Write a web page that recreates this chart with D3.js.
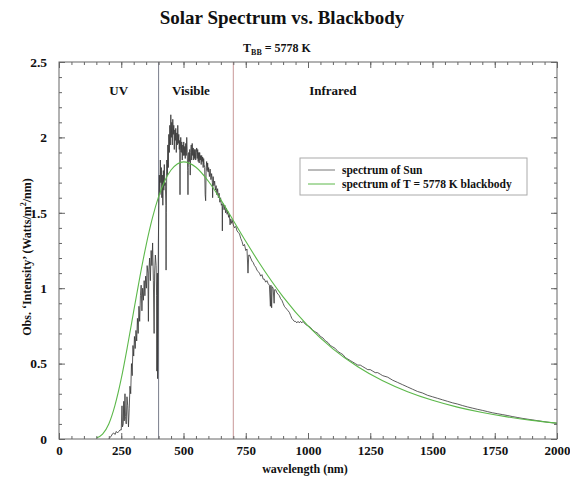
<!DOCTYPE html>
<html><head><meta charset="utf-8">
<script src="https://cdn.jsdelivr.net/npm/d3@7"></script>
<style>
body{margin:0;background:#fff;}
text{font-family:"Liberation Serif","Times New Roman",serif;font-weight:bold;fill:#111;}
</style></head>
<body><svg id="c" width="570" height="477"></svg>
<script>
// ---------- data ----------
const xTicks = [0,250,500,750,1000,1250,1500,1750,2000];
const yTicks = [0,0.5,1,1.5,2,2.5];
const yTickLabels = ["0","0.5","1","1.5","2","2.5"];
const regionNames = ["UV","Visible","Infrared"];
const regionCenters = [240,530,1100];
const regionBounds = [400,700];

// blackbody T = 5778 K
const bbWl  = [150,175,200,225,250,275,300,325,350,375,400,425,450,475,500,550,600,650,700,750,800,900,1000,1100,1200,1300,1400,1500,1600,1700,1800,1900,2000];
const bbVal = [0.007,0.033,0.10,0.225,0.40,0.615,0.848,1.077,1.286,1.464,1.607,1.713,1.784,1.824,1.838,1.802,1.709,1.586,1.449,1.311,1.179,0.943,0.750,0.598,0.479,0.386,0.3135,0.2566,0.2115,0.1757,0.147,0.1238,0.105];

const sunWl = [200,205,210,215,220,225,230,235,240,245,250,253,255,258,260,262,265,267,270,273,276,279,282,285,288,291,294,297,300,303,306,309,312,315,318,321,324,327,330,333,336,339,342,345,348,351,354,357,359,361,364,367,370,373,376,379,382,384,387,390,392,393,395,396,397,399,401,403,405,407,409,411,413,415,417,419,421,423,425,427,429,430,431,433,435,437,439,441,443,445,447,449,451,453,455,457,459,461,463,465,467,469,471,473,475,477,479,481,483,485,486,487,489,491,493,495,497,499,501,503,505,507,509,511,513,515,517,518,519,521,523,525,527,529,531,533,535,537,539,541,543,545,547,549,551,553,555,557,559,561,563,565,567,569,571,573,575,577,579,581,583,585,587,589,591,593,595,597,599,601,604,607,610,613,616,617,619,622,625,628,631,634,637,640,643,646,649,652,655,656,657,660,663,666,669,672,675,678,681,684,687,690,693,696,700,705,710,715,720,725,730,735,740,745,750,755,759,762,765,770,775,780,785,790,795,800,805,810,815,820,825,830,835,840,845,849,851,854,856,860,864,866,870,875,880,885,890,895,900,905,910,915,920,925,930,935,940,945,950,955,960,965,970,975,980,990,1000,1010,1020,1030,1040,1050,1060,1070,1080,1090,1100,1110,1120,1130,1140,1150,1160,1170,1180,1190,1200,1210,1220,1230,1240,1250,1260,1270,1280,1290,1300,1320,1340,1360,1380,1400,1420,1440,1460,1480,1500,1520,1540,1560,1580,1600,1620,1640,1660,1680,1700,1720,1740,1760,1780,1800,1820,1840,1860,1880,1900,1920,1940,1960,1980,2000];
const sunVal = [0.0,0.01,0.02,0.035,0.04,0.03,0.05,0.04,0.05,0.06,0.06,0.22,0.08,0.10,0.25,0.12,0.30,0.15,0.10,0.28,0.22,0.08,0.20,0.35,0.30,0.50,0.42,0.62,0.55,0.68,0.60,0.72,0.65,0.80,0.70,0.88,0.78,0.95,1.02,0.85,1.00,0.92,1.05,0.95,1.08,1.00,1.15,1.10,0.78,1.12,1.20,1.05,1.25,1.15,1.30,1.05,0.70,1.10,1.22,1.15,0.95,0.45,1.10,0.40,0.55,1.30,1.55,1.75,1.62,1.85,1.70,1.80,1.60,1.75,1.55,1.78,1.65,1.82,1.68,1.70,1.55,1.12,1.50,1.85,1.75,1.95,1.80,2.02,1.90,2.08,1.95,2.15,2.00,2.10,1.95,2.12,2.02,2.08,1.92,2.05,1.98,2.06,1.90,2.03,1.95,2.08,1.96,2.02,1.92,1.98,1.62,1.90,2.00,1.90,1.97,1.85,1.95,1.88,1.97,1.88,1.94,1.86,1.96,1.88,2.00,1.90,1.78,1.62,1.80,1.90,1.84,1.92,1.75,1.90,1.95,1.85,1.96,1.88,1.93,1.85,1.92,1.86,1.92,1.85,1.90,1.93,1.86,1.92,1.84,1.90,1.83,1.90,1.85,1.88,1.82,1.88,1.84,1.87,1.80,1.86,1.82,1.80,1.62,1.58,1.80,1.84,1.78,1.83,1.77,1.80,1.74,1.79,1.72,1.76,1.70,1.60,1.74,1.68,1.71,1.65,1.68,1.62,1.66,1.60,1.63,1.57,1.60,1.55,1.56,1.38,1.54,1.56,1.52,1.55,1.50,1.53,1.49,1.51,1.47,1.49,1.42,1.46,1.43,1.45,1.42,1.40,1.41,1.38,1.37,1.36,1.33,1.31,1.28,1.29,1.25,1.26,1.10,1.22,1.22,1.20,1.18,1.17,1.15,1.14,1.12,1.11,1.10,1.08,1.09,1.06,1.06,1.04,1.05,1.03,1.02,0.88,1.02,0.87,1.01,1.00,0.90,0.99,0.99,0.97,0.96,0.95,0.93,0.92,0.90,0.88,0.87,0.86,0.85,0.84,0.82,0.80,0.79,0.78,0.78,0.77,0.78,0.77,0.78,0.77,0.78,0.76,0.75,0.74,0.72,0.71,0.70,0.68,0.67,0.65,0.64,0.62,0.61,0.60,0.58,0.57,0.56,0.54,0.53,0.52,0.51,0.50,0.49,0.49,0.48,0.47,0.46,0.46,0.45,0.44,0.44,0.43,0.42,0.41,0.39,0.375,0.36,0.345,0.33,0.315,0.305,0.29,0.28,0.27,0.26,0.25,0.24,0.232,0.222,0.213,0.205,0.197,0.19,0.182,0.174,0.168,0.162,0.156,0.149,0.143,0.137,0.132,0.127,0.122,0.117,0.112,0.108,0.104];

const legendLabels = ["spectrum of Sun","spectrum of T = 5778 K blackbody"];
const colors = {sun:"#333", bb:"#5cb84a", uvLine:"#7a7d8c", irLine:"#c89898", axis:"#666"};

// ---------- layout ----------
const svg = d3.select("#c");
const L=59, R=557, T=62, B=439;
const x = d3.scaleLinear().domain([0,2000]).range([L,R]);
const y = d3.scaleLinear().domain([0,2.5]).range([B,T]);

svg.append("defs").append("clipPath").attr("id","clip")
  .append("rect").attr("x",L).attr("y",T).attr("width",R-L).attr("height",B-T);

// region divider lines
svg.append("line").attr("x1",x(regionBounds[0])).attr("x2",x(regionBounds[0]))
  .attr("y1",y(0)).attr("y2",y(2.5)).attr("stroke",colors.uvLine).attr("stroke-width",1);
svg.append("line").attr("x1",x(regionBounds[1])).attr("x2",x(regionBounds[1]))
  .attr("y1",y(0)).attr("y2",y(2.5)).attr("stroke",colors.irLine).attr("stroke-width",1);

// region labels
svg.selectAll("text.reg").data(regionNames).enter().append("text")
  .attr("class","reg").attr("x",(d,i)=>x(regionCenters[i])).attr("y",95)
  .attr("text-anchor","middle").style("font-size","13px").text(d=>d);

// series
const g = svg.append("g").attr("clip-path","url(#clip)");
const sunData = sunWl.map((w,i)=>[w,sunVal[i]]);
const bbData = bbWl.map((w,i)=>[w,bbVal[i]]);
g.append("path").datum(sunData)
  .attr("d",d3.line().x(d=>x(d[0])).y(d=>y(d[1])))
  .attr("fill","none").attr("stroke",colors.sun).attr("stroke-width",0.8);
g.append("path").datum(bbData)
  .attr("d",d3.line().curve(d3.curveMonotoneX).x(d=>x(d[0])).y(d=>y(d[1])))
  .attr("fill","none").attr("stroke",colors.bb).attr("stroke-width",1.1);

// axes (ticks inward, mirrored)
function styleAxis(sel){
  sel.select(".domain").remove();
  sel.selectAll("line").attr("stroke",colors.axis);
}
const xMinor = d3.range(0,2001,50);
const yMinor = d3.range(0,2.501,0.1);
svg.append("g").attr("transform",`translate(0,${B})`)
  .call(d3.axisBottom(x).tickValues(xMinor).tickSize(-3).tickFormat("")).call(styleAxis);
svg.append("g").attr("transform",`translate(0,${B})`)
  .call(d3.axisBottom(x).tickValues(xTicks).tickSize(-6).tickPadding(10).tickFormat(d3.format("d")))
  .call(styleAxis)
  .call(s=>s.selectAll("text").style("font-size","13px").style("font-family","Liberation Serif").attr("dy","0.71em").attr("y",7));
svg.append("g").attr("transform",`translate(0,${T})`)
  .call(d3.axisTop(x).tickValues(xMinor).tickSize(-3).tickFormat("")).call(styleAxis);
svg.append("g").attr("transform",`translate(0,${T})`)
  .call(d3.axisTop(x).tickValues(xTicks).tickSize(-6).tickFormat("")).call(styleAxis);

svg.append("g").attr("transform",`translate(${L},0)`)
  .call(d3.axisLeft(y).tickValues(yMinor).tickSize(-3).tickFormat("")).call(styleAxis);
svg.append("g").attr("transform",`translate(${L},0)`)
  .call(d3.axisLeft(y).tickValues(yTicks).tickSize(-6).tickFormat((d,i)=>yTickLabels[i]))
  .call(styleAxis)
  .call(s=>s.selectAll("text").style("font-size","13.5px").style("font-family","Liberation Serif").attr("x",-12));
svg.append("g").attr("transform",`translate(${R},0)`)
  .call(d3.axisRight(y).tickValues(yMinor).tickSize(-3).tickFormat("")).call(styleAxis);
svg.append("g").attr("transform",`translate(${R},0)`)
  .call(d3.axisRight(y).tickValues(yTicks).tickSize(-6).tickFormat("")).call(styleAxis);

// frame
svg.append("rect").attr("x",L).attr("y",T).attr("width",R-L).attr("height",B-T)
  .attr("fill","none").attr("stroke",colors.axis).attr("stroke-width",1);

// titles
svg.append("text").attr("x",282).attr("y",24).attr("text-anchor","middle")
  .style("font-size","19px").text("Solar Spectrum vs. Blackbody");
const sub = svg.append("text").attr("x",277).attr("y",52).attr("text-anchor","middle").style("font-size","12px");
sub.append("tspan").text("T");
sub.append("tspan").attr("dy",3).style("font-size","8px").text("BB");
sub.append("tspan").attr("dy",-3).text(" = 5778 K");

svg.append("text").attr("x",305).attr("y",473).attr("text-anchor","middle")
  .style("font-size","12px").text("wavelength (nm)");
const yl = svg.append("text").attr("transform","translate(31,257) rotate(-90)")
  .attr("text-anchor","middle").style("font-size","12px");
yl.append("tspan").text("Obs. ‘Intensity’ (Watts/m");
yl.append("tspan").attr("dy",-5).style("font-size","8px").text("2");
yl.append("tspan").attr("dy",5).text("/nm)");

// legend
const lg = svg.append("g");
lg.append("rect").attr("x",300).attr("y",158).attr("width",227).attr("height",37)
  .attr("fill","#fff").attr("stroke","#aaa").attr("stroke-width",1);
legendLabels.forEach((t,i)=>{
  const yy = 170 + i*14;
  lg.append("line").attr("x1",308).attr("x2",335).attr("y1",yy).attr("y2",yy)
    .attr("stroke",i===0?"#777":colors.bb).attr("stroke-width",1);
  lg.append("text").attr("x",342).attr("y",yy+4).style("font-size","11.5px").text(t);
});
</script></body></html>
